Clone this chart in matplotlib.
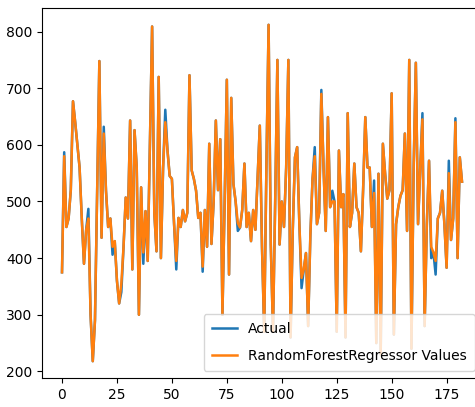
import matplotlib
matplotlib.use('Agg')
import matplotlib.pyplot as plt

plt.rcParams['font.family'] = 'DejaVu Sans'
plt.rcParams['font.size'] = 10

predicted = [
    375, 580, 455, 470, 520, 677, 640, 600, 560, 470,
    390, 450, 470, 300, 218, 290, 520, 748, 436, 620,
    520, 455, 470, 420, 430, 360, 320, 355, 420, 507,
    470, 643, 380, 626, 560, 300, 525, 410, 483, 395,
    600, 809, 480, 412, 720, 400, 560, 640, 590, 545,
    540, 460, 395, 471, 455, 485, 465, 480, 723, 555,
    540, 519, 471, 480, 385, 485, 420, 602, 425, 500,
    643, 520, 610, 300, 500, 715, 371, 683, 531, 500,
    462, 454, 485, 567, 455, 480, 430, 485, 450, 540,
    634, 420, 270, 560, 812, 424, 270, 500, 750, 424,
    500, 455, 560, 750, 260, 450, 578, 596, 460, 365,
    380, 409, 280, 440, 540, 580, 460, 480, 690, 560,
    448, 649, 490, 500, 500, 270, 590, 490, 513, 260,
    656, 455, 480, 567, 490, 480, 412, 520, 649, 560,
    560, 455, 515, 250, 549, 230, 602, 550, 505, 520,
    691, 265, 460, 490, 510, 520, 620, 448, 750, 240,
    560, 745, 460, 560, 645, 280, 460, 572, 420, 410,
    395, 470, 480, 519, 460, 383, 550, 432, 470, 640,
    400, 578, 535,
]

actual = [
    375, 587, 455, 470, 520, 677, 640, 600, 560, 470,
    390, 450, 487, 300, 218, 290, 520, 748, 436, 632,
    520, 455, 470, 406, 430, 360, 320, 340, 420, 507,
    470, 643, 380, 626, 560, 300, 525, 390, 483, 395,
    600, 809, 480, 412, 720, 400, 560, 662, 590, 545,
    540, 460, 380, 471, 455, 485, 465, 480, 723, 555,
    540, 519, 471, 480, 376, 485, 420, 602, 425, 500,
    643, 520, 610, 300, 500, 715, 371, 683, 531, 500,
    448, 454, 485, 567, 455, 480, 430, 485, 450, 540,
    634, 420, 270, 560, 812, 424, 270, 500, 750, 424,
    500, 455, 560, 750, 260, 450, 578, 596, 460, 347,
    380, 409, 280, 440, 540, 596, 460, 480, 697, 560,
    448, 649, 490, 519, 500, 270, 590, 490, 513, 260,
    656, 455, 480, 567, 490, 480, 412, 520, 649, 560,
    560, 455, 537, 250, 549, 230, 602, 550, 505, 520,
    691, 265, 460, 490, 510, 520, 620, 448, 750, 240,
    560, 745, 460, 560, 656, 280, 460, 572, 400, 410,
    371, 470, 480, 519, 460, 383, 572, 432, 470, 647,
    400, 578, 535,
]

fig = plt.figure(figsize=(4.75, 4.07), dpi=100)
ax = fig.add_axes([42 / 475, 29 / 407, 440 / 475, 370 / 407])

ax.plot(actual, lw=1.8, label='Actual')
ax.plot(predicted, lw=1.8, label='RandomForestRegressor Values')
ax.legend(loc='lower right', labelspacing=0.9, borderpad=0.6, handlelength=1.8)

fig.savefig('out.png', dpi=100)
